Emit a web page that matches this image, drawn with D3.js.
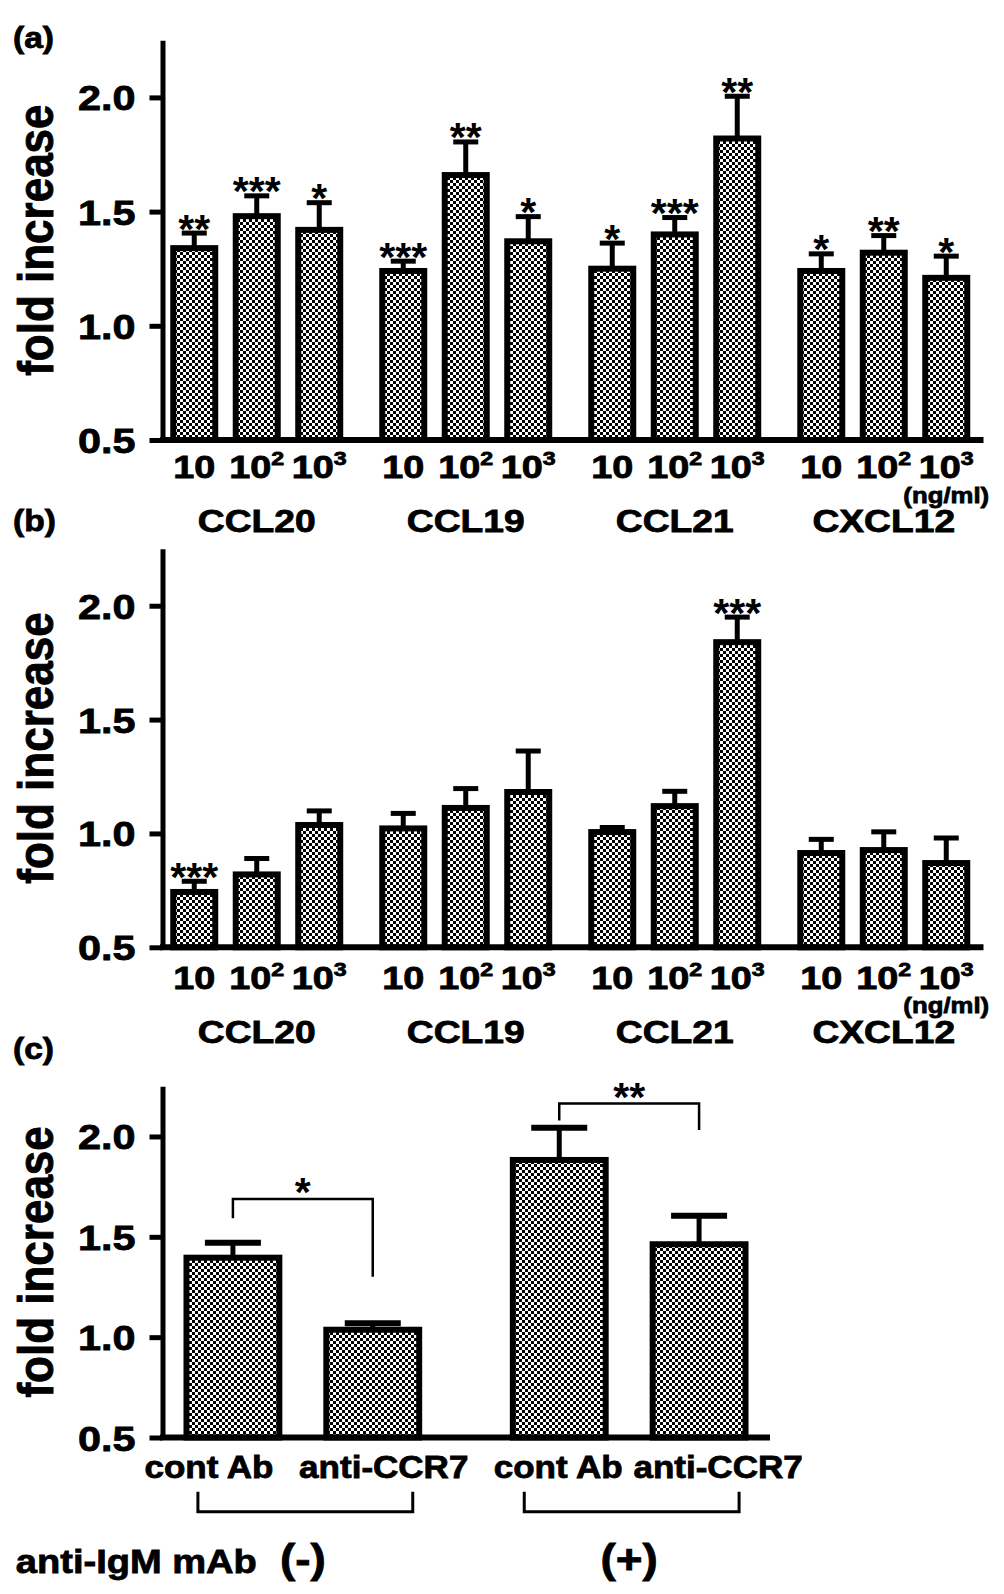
<!DOCTYPE html>
<html><head><meta charset="utf-8">
<script src="https://cdn.jsdelivr.net/npm/d3@7"></script>
<style>
html,body{margin:0;padding:0;background:#fff;}
svg{display:block;font-family:"Liberation Sans",Arial,Helvetica,sans-serif;font-weight:bold;}
svg text{stroke:#000;stroke-width:0.8px;}
svg text.star{stroke:none;}
</style>
</head><body>
<svg id="chart" width="1004" height="1594"></svg>
<script>
// ---------------- data ----------------
const chemokines = ["CCL20", "CCL19", "CCL21", "CXCL12"];
const concBase = ["10", "10", "10"];
const concExp = ["", "2", "3"];
const concUnit = "(ng/ml)";
const yTicks = [0.5, 1.0, 1.5, 2.0];
const yLabel = "fold increase";

// panel (a): order CCL20(10,10^2,10^3), CCL19(...), CCL21(...), CXCL12(...)
const aMeans = [1.34, 1.48, 1.42, 1.24, 1.66, 1.37, 1.25, 1.40, 1.82, 1.24, 1.32, 1.21];
const aErrs  = [0.066, 0.089, 0.119, 0.043, 0.145, 0.108, 0.112, 0.074, 0.185, 0.075, 0.075, 0.095];
const aSig   = ["**", "***", "*", "***", "**", "*", "*", "***", "**", "*", "**", "*"];

// panel (b)
const bMeans = [0.743, 0.82, 1.037, 1.022, 1.112, 1.182, 1.006, 1.12, 1.84, 0.914, 0.927, 0.87];
const bErrs  = [0.047, 0.07, 0.062, 0.066, 0.085, 0.18, 0.02, 0.065, 0.11, 0.06, 0.08, 0.11];
const bSig   = ["***", "", "", "", "", "", "", "", "***", "", "", ""];

// panel (c)
const cGroups = ["(-)", "(+)"];
const cTreat = ["cont Ab", "anti-CCR7"];
const cMeans = [1.396, 1.037, 1.883, 1.463];
const cErrs  = [0.075, 0.032, 0.16, 0.142];
const cSig   = ["*", "**"];
const cGroupTitle = "anti-IgM mAb";

// ---------------- drawing ----------------
const svg = d3.select("#chart");
const defs = svg.append("defs");
const pat = defs.append("pattern").attr("id", "checker")
  .attr("width", 6).attr("height", 6).attr("patternUnits", "userSpaceOnUse");
pat.append("rect").attr("width", 6).attr("height", 6).attr("fill", "#fff");
pat.append("rect").attr("width", 3).attr("height", 3).attr("fill", "#000");
pat.append("rect").attr("x", 3).attr("y", 3).attr("width", 3).attr("height", 3).attr("fill", "#000");

function txt(g, x, y, s, size, sx, anchor) {
  return g.append("text")
    .attr("transform", `translate(${x},${y}) scale(${sx},1)`)
    .attr("text-anchor", anchor || "start")
    .attr("font-size", size)
    .attr("fill", "#000")
    .text(s);
}

function stars(g, x, yBase, s) {
  return g.append("text").attr("class", "star").attr("x", x).attr("y", yBase)
    .attr("text-anchor", "middle").attr("font-size", 41)
    .attr("fill", "#000")
    .text(s);
}

const AXIS_X = 162.5;

function drawYAxis(g, y) {
  const ax = d3.axisLeft(y).tickValues(yTicks).tickFormat(d3.format(".1f"))
    .tickSize(13).tickSizeOuter(0);
  const ga = g.append("g").attr("transform", `translate(${AXIS_X},0)`).call(ax);
  ga.attr("font-family", null).attr("font-size", null);
  ga.select(".domain").attr("stroke", "#000").attr("stroke-width", 5);
  ga.selectAll(".tick line").attr("stroke", "#000").attr("stroke-width", 5);
  ga.selectAll(".tick text")
    .attr("x", 0).attr("dy", null)
    .attr("transform", "translate(-27,12.5) scale(1.15,1)")
    .attr("font-size", 36).attr("fill", "#000")
    .attr("text-anchor", "end");
  const [r0, r1] = y.range();
  g.append("text")
    .attr("transform", `translate(53,${(r0 + r1) / 2}) scale(1.12,1) rotate(-90)`)
    .attr("text-anchor", "middle").attr("font-size", 44).attr("fill", "#000")
    .text(yLabel);
}

function drawBar(g, cx, bw, y, mean, err, capW, capStroke) {
  const base = y(0.5);
  g.append("rect")
    .attr("x", cx - bw / 2 + 3).attr("width", bw - 6)
    .attr("y", y(mean)).attr("height", base - y(mean))
    .attr("fill", "url(#checker)").attr("stroke", "#000").attr("stroke-width", 6);
  g.append("line").attr("x1", cx).attr("x2", cx)
    .attr("y1", y(mean)).attr("y2", y(mean + err))
    .attr("stroke", "#000").attr("stroke-width", 5);
  g.append("line").attr("x1", cx - capW / 2).attr("x2", cx + capW / 2)
    .attr("y1", y(mean + err)).attr("y2", y(mean + err))
    .attr("stroke", "#000").attr("stroke-width", capStroke);
}

function chemokinePanel(cfg, means, errs, sigs) {
  const g = svg.append("g");
  const y = d3.scaleLinear().domain([0.5, 2.25]).range([cfg.y0, cfg.y1]);
  const xG = d3.scaleBand().domain(chemokines).range([163, 977.5]).paddingInner(0.103).paddingOuter(0);
  const xC = d3.scaleBand().domain(d3.range(concBase.length)).range([0, xG.bandwidth()])
    .paddingInner(0.232).paddingOuter(0.116);

  chemokines.forEach((c, gi) => {
    concBase.forEach((b, ci) => {
      const i = gi * concBase.length + ci;
      const cx = xG(c) + xC(ci) + xC.bandwidth() / 2;
      drawBar(g, cx, xC.bandwidth(), y, means[i], errs[i], 25, 5);
      if (sigs[i]) stars(g, cx, y(means[i] + errs[i]) + 9.5, sigs[i]);
      const t = g.append("text")
        .attr("transform", `translate(${cx},${cfg.tickBase}) scale(1.22,1)`)
        .attr("text-anchor", "middle").attr("font-size", 31).attr("fill", "#000");
      t.append("tspan").text(b);
      if (concExp[ci]) t.append("tspan").attr("font-size", 19).attr("dy", -13).text(concExp[ci]);
      if (gi === chemokines.length - 1 && ci === concBase.length - 1) {
        txt(g, cx, cfg.unitBase, concUnit, 23, 1.12, "middle");
      }
    });
    txt(g, xG(c) + xG.bandwidth() / 2, cfg.groupBase, c, 31, 1.2, "middle");
  });

  drawYAxis(g, y);
  g.append("line").attr("x1", 160).attr("x2", xG.range()[1] + 6)
    .attr("y1", y(0.5)).attr("y2", y(0.5)).attr("stroke", "#000").attr("stroke-width", 6);

  txt(g, 13, cfg.letterBase, cfg.letter, 30, 1.12, "start");
}

chemokinePanel({ y0: 440, y1: 40.3, tickBase: 478, unitBase: 503, groupBase: 532, letter: "(a)", letterBase: 47.5 },
  aMeans, aErrs, aSig);
chemokinePanel({ y0: 947.3, y1: 548.8, tickBase: 989, unitBase: 1013, groupBase: 1043, letter: "(b)", letterBase: 531 },
  bMeans, bErrs, bSig);

// ---------------- panel (c) ----------------
(function () {
  const g = svg.append("g");
  const y = d3.scaleLinear().domain([0.5, 2.25]).range([1437.5, 1086.3]);
  const xG = d3.scaleBand().domain(cGroups).range([163, 769]).paddingInner(0.143).paddingOuter(0);
  const xT = d3.scaleBand().domain(cTreat).range([0, xG.bandwidth()]).paddingInner(0.293).paddingOuter(0.1465);
  const labelDx = [-24, 11, -1, 19];
  const centers = [];
  cGroups.forEach((gr, gi) => {
    cTreat.forEach((t, ti) => {
      const i = gi * cTreat.length + ti;
      const cx = xG(gr) + xT(t) + xT.bandwidth() / 2;
      centers.push(cx);
      drawBar(g, cx, xT.bandwidth(), y, cMeans[i], cErrs[i], 56, 6);
      txt(g, cx + labelDx[i], 1478.3, t, 31, 1.13, "middle");
    });
    const xa = centers[gi * 2] - 35, xb = centers[gi * 2 + 1] + 40;
    g.append("path").attr("d", `M${xa},1491.7V1511.7H${xb}V1491.7`)
      .attr("fill", "none").attr("stroke", "#000").attr("stroke-width", 3);
    txt(g, xG(gr) + xG.bandwidth() / 2, 1573.3, gr, 41, 1.12, "middle");
  });
  txt(g, xG(cGroups[0]) + xG.bandwidth() / 2 - 46, 1573.3, cGroupTitle, 34, 1.12, "end");

  // significance brackets (heights in data units)
  const brk = [
    { a: 0, b: 1, top: 1.688, left: 1.592, right: 1.301 },
    { a: 2, b: 3, top: 2.164, left: 2.079, right: 2.032 }
  ];
  brk.forEach((d, k) => {
    const xa = centers[d.a], xb = centers[d.b];
    g.append("path")
      .attr("d", `M${xa},${y(d.left)}V${y(d.top)}H${xb}V${y(d.right)}`)
      .attr("fill", "none").attr("stroke", "#000").attr("stroke-width", 2.5);
    stars(g, (xa + xb) / 2, y(d.top) + 7, cSig[k]);
  });

  drawYAxis(g, y);
  g.append("line").attr("x1", 160).attr("x2", xG.range()[1] + 1)
    .attr("y1", y(0.5)).attr("y2", y(0.5)).attr("stroke", "#000").attr("stroke-width", 6);
  txt(g, 13, 1059, "(c)", 30, 1.12, "start");
})();
</script>
</body></html>
